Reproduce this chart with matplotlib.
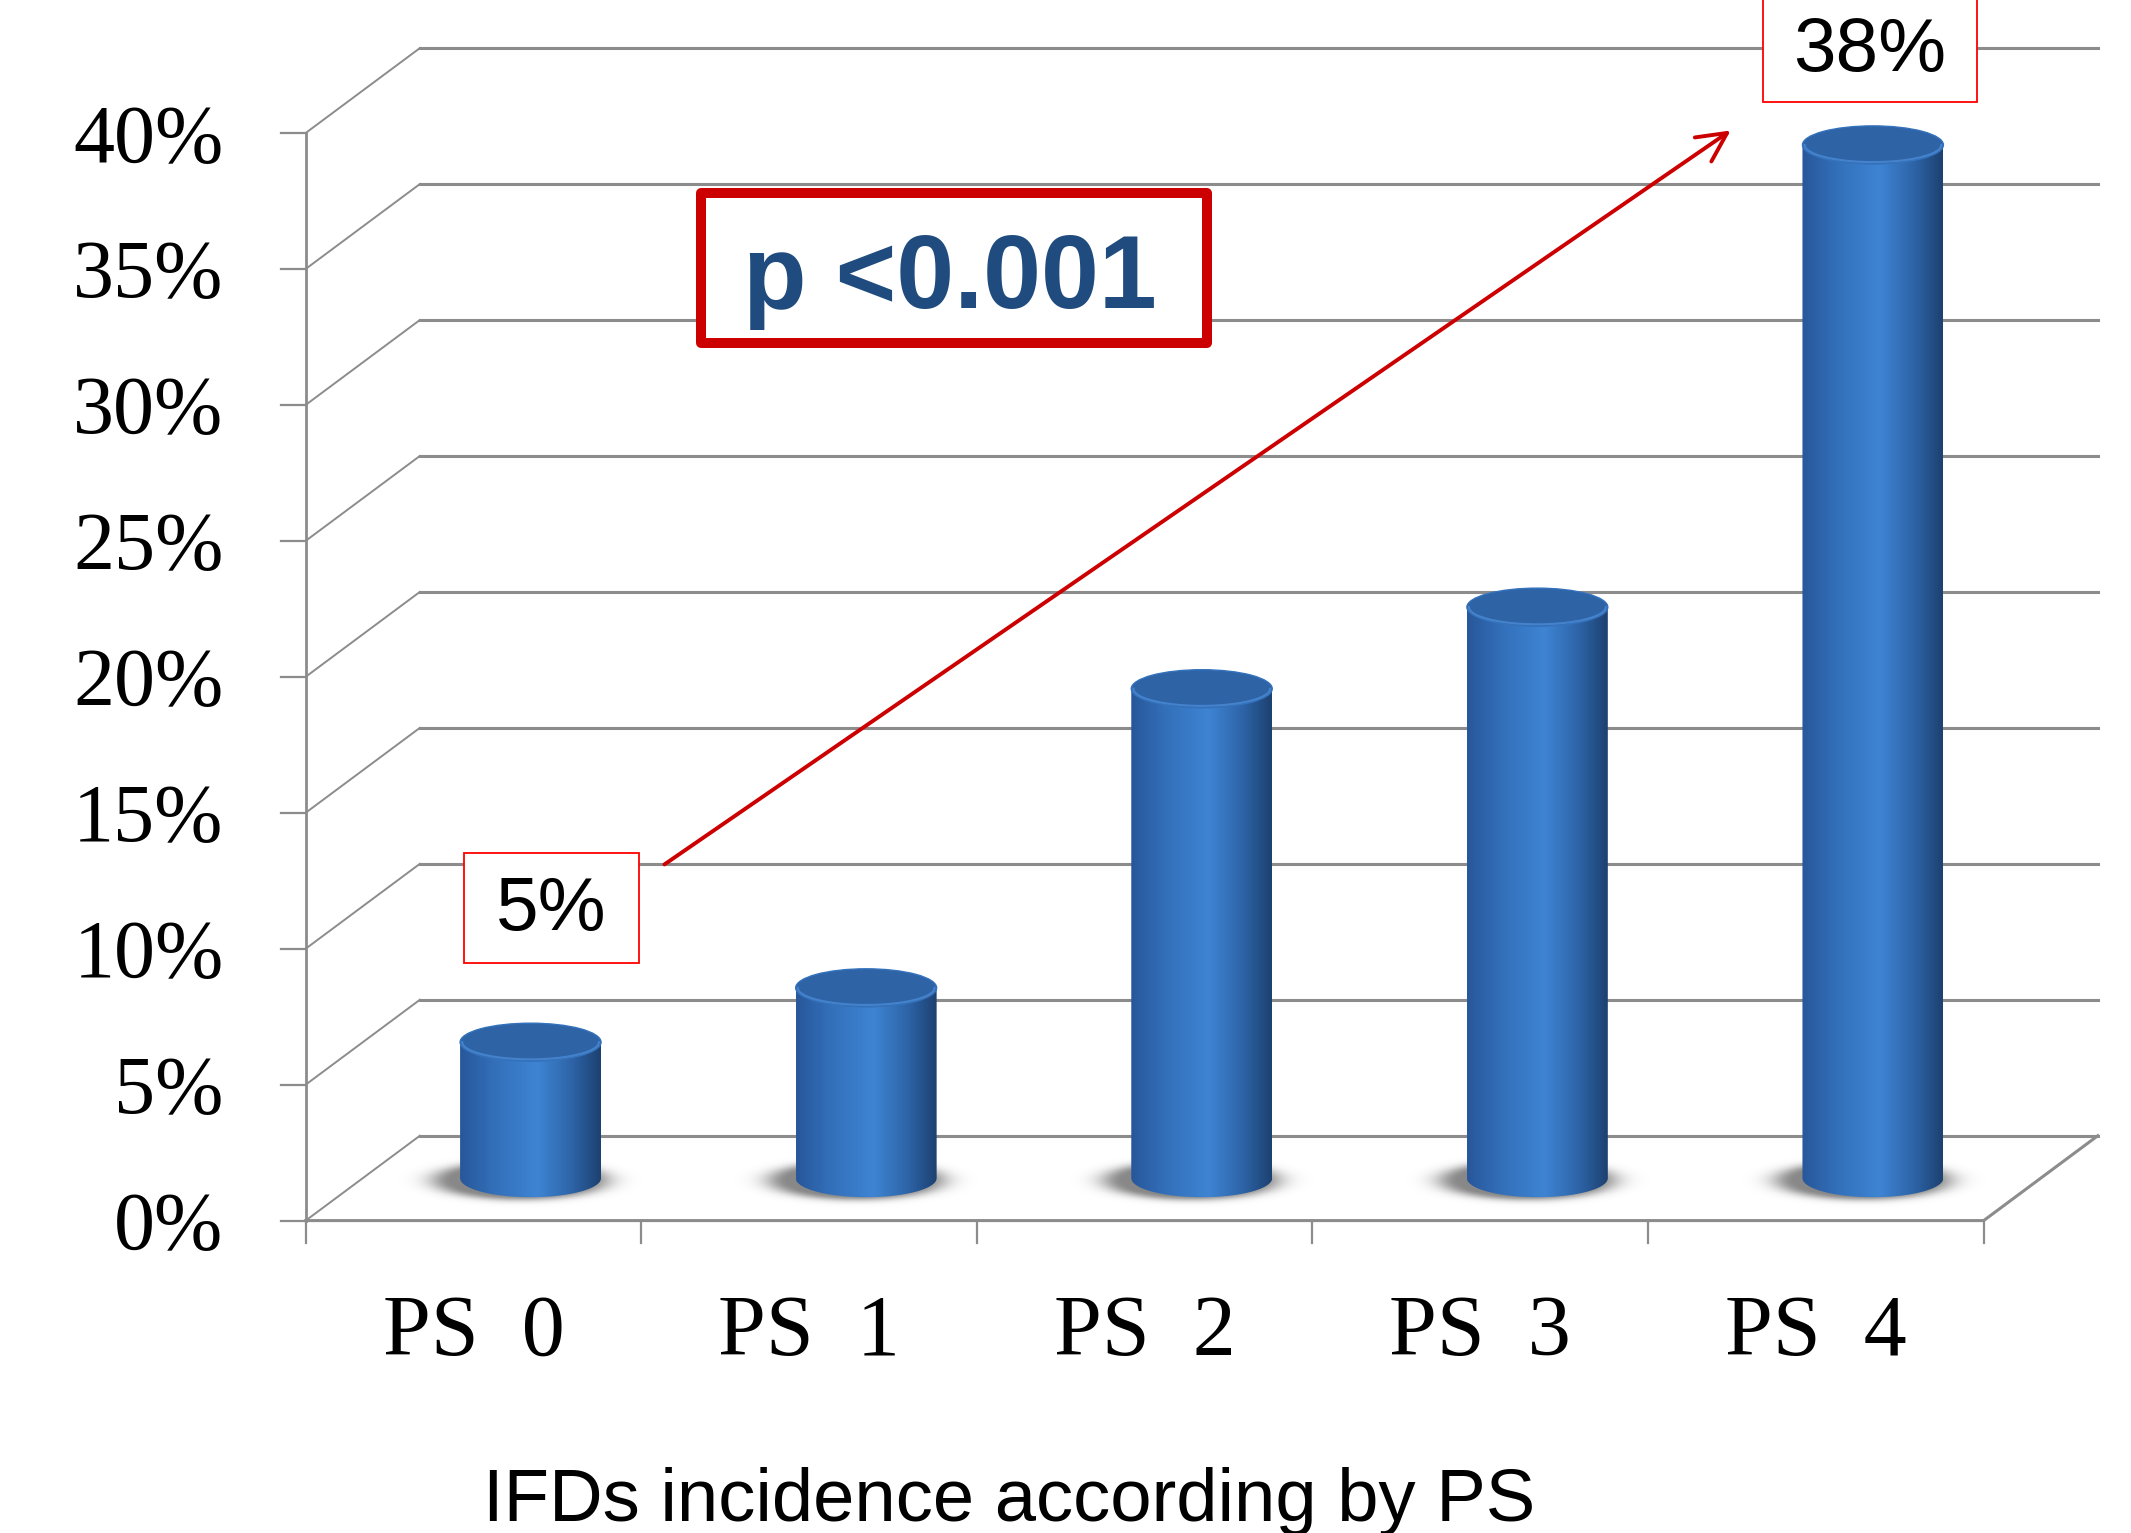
import numpy as np
import matplotlib

matplotlib.use("Agg")
import matplotlib.pyplot as plt
from matplotlib.colors import LinearSegmentedColormap, to_rgb
from matplotlib.patches import Ellipse, Polygon, Rectangle, FancyArrowPatch

# data
categories = ["PS  0", "PS  1", "PS  2", "PS  3", "PS  4"]
incidence = [5, 7, 18, 21, 38]
y_ticks = [0, 5, 10, 15, 20, 25, 30, 35, 40]
y_tick_labels = [f"{v}%" for v in y_ticks]
x_title = "IFDs incidence according by PS"
p_label = "p <0.001"

GRID = "#8C8C8C"
RED = "#CC0000"
BRIGHT_RED = "#FF0000"
NAVY = "#1F4B7E"
CAP = "#2E63A6"
SERIF = ["Liberation Serif", "DejaVu Serif"]
SANS = ["Liberation Sans", "DejaVu Sans"]

DX, DY = 0.34, 3.12      # depth offset of the back wall
BAR_W = 0.42             # cylinder width in category units
CAP_H = 1.40             # ellipse height in % units

body_cmap = LinearSegmentedColormap.from_list(
    "cyl",
    [(0.0, "#28579A"), (0.25, "#3370BA"), (0.55, "#3E84D3"),
     (0.8, "#2D63A7"), (1.0, "#1D4170")],
)

fig = plt.figure(figsize=(21.31, 15.33), dpi=100, facecolor="white")
ax = fig.add_axes([0, 0, 1, 1])
ax.axis("off")

x0, x1 = -0.5, len(categories) - 0.5

# walls and floor
for v, lab in zip(y_ticks, y_tick_labels):
    ax.plot([x0, x0 + DX], [v, v + DY], color=GRID, lw=1.4, zorder=1)
    ax.plot([x0 + DX, x1 + DX], [v + DY, v + DY], color=GRID, lw=2.2, zorder=1)
    ax.plot([x0 - 0.075, x0], [v, v], color=GRID, lw=1.6, zorder=1)
    ax.text(-0.745, v - 1.05, lab, ha="right", va="baseline",
            fontsize=59, family=SERIF, color="black")
ax.plot([x0, x0], [0, y_ticks[-1]], color=GRID, lw=2.0, zorder=1)
ax.plot([x0, x1, x1 + DX], [0, 0, DY], color=GRID, lw=2.2, zorder=1)
for i in range(len(categories) + 1):
    ax.plot([x0 + i, x0 + i], [0, -0.84], color=GRID, lw=1.6, zorder=1)

for i, name in enumerate(categories):
    ax.text(i, -4.94, name, ha="center", va="baseline", fontsize=62,
            family=SERIF, color="black")

# cylinders
base = DY / 2
t = np.linspace(np.pi, 2 * np.pi, 80)
for i, val in enumerate(incidence):
    xc = i + DX / 2
    xl, xr = xc - BAR_W / 2, xc + BAR_W / 2
    top = base + val

    # soft shadow on the floor, leaning to the left
    gx = np.linspace(xc - BAR_W / 2 - 0.25, xc + BAR_W / 2 + 0.22, 240)
    gy = np.linspace(base - 1.4, base + 1.4, 90)
    X, Y = np.meshgrid(gx, gy)
    r = np.sqrt(((X - xc + 0.03) / (BAR_W / 2 + 0.08)) ** 2
                + ((Y - base + 0.1) / 0.8) ** 2)
    alpha = 0.78 * np.exp(-np.clip(r - 0.7, 0, None) ** 2 / 0.06)
    rgba = np.zeros(X.shape + (4,))
    rgba[..., :3] = to_rgb("#666666")
    rgba[..., 3] = alpha
    ax.imshow(rgba, extent=(gx[0], gx[-1], gy[0], gy[-1]), origin="lower",
              aspect="auto", zorder=2, interpolation="bilinear")

    # body with horizontal gradient
    ex = xc + BAR_W / 2 * np.cos(t)
    ey = base + CAP_H / 2 * np.sin(t)
    outline = [(xl, top)] + list(zip(ex, ey)) + [(xr, top)]
    clip = Polygon(outline, closed=True, transform=ax.transData)
    grad = np.linspace(0, 1, 256).reshape(1, -1)
    im = ax.imshow(grad, cmap=body_cmap, extent=(xl, xr, base - CAP_H, top),
                   aspect="auto", zorder=3 + i, interpolation="bilinear")
    im.set_clip_path(clip)

    # top cap
    ax.add_patch(Ellipse((xc, top), BAR_W, CAP_H, facecolor=CAP,
                         edgecolor="#3472BC", lw=1.0, zorder=3.5 + i))
    rx = xc + BAR_W / 2 * 0.97 * np.cos(t)
    ry = top + CAP_H / 2 * 0.9 * np.sin(t)
    ax.plot(rx, ry, color="#4A8AD6", lw=1.5, alpha=0.8, zorder=3.6 + i)

# annotations
ax.add_patch(Rectangle((-0.0286, 9.47), 0.5215, 4.05, facecolor="white",
                       edgecolor=BRIGHT_RED, lw=1.3, zorder=10))
ax.text(0.2304, 11.4, f"{incidence[0]}%", ha="center", va="center",
        fontsize=55, family=SANS, color="black", zorder=11)

ax.add_patch(Rectangle((3.842, 41.14), 0.638, 5.0, facecolor="white",
                       edgecolor=BRIGHT_RED, lw=1.3, zorder=10))
ax.text(4.161, 43.0, f"{incidence[-1]}%", ha="center", va="center",
        fontsize=55, family=SANS, color="black", zorder=11)

ax.add_patch(FancyArrowPatch((0.562, 13.04), (3.753, 40.15),
                             arrowstyle="->,head_length=0.7,head_width=0.35",
                             mutation_scale=30, color=RED, lw=2.8, zorder=9))

ax.add_patch(Rectangle((0.6776, 32.28), 1.5077, 5.51, facecolor="white",
                       edgecolor=RED, lw=7.2, joinstyle="round", zorder=10))
ax.text(1.4196, 33.56, p_label, ha="center", va="baseline", fontsize=75,
        fontweight="bold", family=SANS, color=NAVY, zorder=11)

ax.text(1.595, -11.05, x_title, ha="center", va="baseline", fontsize=53.5,
        family=SANS, color="black")

ax.set_xlim(-1.411, 4.939)
ax.set_ylim(-11.49, 44.89)
ax.set_aspect("auto")

plt.savefig("out.png", dpi=100, facecolor=fig.get_facecolor())
plt.close(fig)
